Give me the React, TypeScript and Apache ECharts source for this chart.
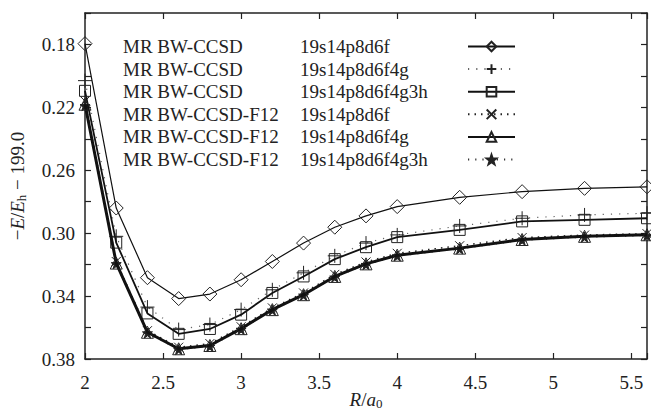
import React, { useEffect, useRef } from "react";
import * as echarts from "echarts";

const R = [2.0, 2.2, 2.4, 2.6, 2.8, 3.0, 3.2, 3.4, 3.6, 3.8, 4.0, 4.4, 4.8, 5.2, 5.6];

const bw6f = [0.1795, 0.284, 0.3283, 0.3416, 0.3387, 0.3296, 0.318, 0.3063, 0.2962, 0.289, 0.2831, 0.2772, 0.2736, 0.2715, 0.2705];
const bw6f4g = [0.203, 0.302, 0.347, 0.3613, 0.3581, 0.3486, 0.336, 0.3252, 0.3144, 0.3063, 0.3011, 0.2954, 0.2905, 0.2884, 0.2873];
const bw6f4g3h = [0.2095, 0.306, 0.351, 0.364, 0.3609, 0.3518, 0.338, 0.3275, 0.3165, 0.3089, 0.3025, 0.2979, 0.2925, 0.2915, 0.2905];
const f12_6f = [0.216, 0.318, 0.362, 0.3725, 0.3702, 0.3595, 0.3475, 0.338, 0.3262, 0.3183, 0.3128, 0.308, 0.3028, 0.3012, 0.3003];
const f12_6f4g = [0.218, 0.319, 0.363, 0.3735, 0.3714, 0.3607, 0.3486, 0.3391, 0.3275, 0.3195, 0.314, 0.3095, 0.304, 0.302, 0.301];
const f12_6f4g3h = [0.219, 0.3195, 0.3635, 0.374, 0.372, 0.3612, 0.349, 0.3395, 0.328, 0.32, 0.3145, 0.31, 0.3045, 0.3025, 0.3015];

const methods = ["MR BW-CCSD", "MR BW-CCSD", "MR BW-CCSD", "MR BW-CCSD-F12", "MR BW-CCSD-F12", "MR BW-CCSD-F12"];
const basis = ["19s14p8d6f", "19s14p8d6f4g", "19s14p8d6f4g3h", "19s14p8d6f", "19s14p8d6f4g", "19s14p8d6f4g3h"];

const FONT = "'Liberation Serif', 'DejaVu Serif', serif";

const PLUS = "path://M0,-1 L0,1 M-1,0 L1,0";
const CROSS = "path://M-1,-1 L1,1 M-1,1 L1,-1";
const STAR = "path://M0,-10 L2.35,-3.24 L9.51,-3.09 L3.8,1.24 L5.88,8.09 L0,4 L-5.88,8.09 L-3.8,1.24 L-9.51,-3.09 L-2.35,-3.24 Z";

export default function App() {
  const ref = useRef<HTMLDivElement>(null);
  useEffect(() => {
    if (!ref.current) return;
    const chart = echarts.init(ref.current, null, { renderer: "svg" });
    const names = methods.map((m, i) => m + " " + basis[i]);
    const pts = (arr: number[]) => R.map((r, i) => [r, arr[i]]);
    const styles = [
      { data: bw6f, symbol: "diamond", size: 14, line: { color: "#111", width: 1.2, type: "solid" }, fill: "none", z: 3 },
      { data: bw6f4g, symbol: PLUS, size: 14, line: { color: "#666", width: 1.2, type: [1.2, 7] }, fill: "none", z: 2 },
      { data: bw6f4g3h, symbol: "rect", size: 11, line: { color: "#111", width: 1.8, type: "solid" }, fill: "none", z: 3 },
      { data: f12_6f, symbol: CROSS, size: 9, line: { color: "#222", width: 1.5, type: [1.5, 5] }, fill: "none", z: 2 },
      { data: f12_6f4g, symbol: "triangle", size: 12, line: { color: "#111", width: 3, type: "solid" }, fill: "none", z: 4 },
      { data: f12_6f4g3h, symbol: STAR, size: 10, line: { color: "#333", width: 1.2, type: [1.2, 6] }, fill: "#222", z: 2 },
    ];
    const series = styles.map((s, i) => ({
      type: "line",
      name: names[i],
      data: pts(s.data),
      symbol: s.symbol,
      symbolSize: s.size,
      showSymbol: true,
      showAllSymbol: true,
      z: s.z,
      lineStyle: { color: s.line.color, width: s.line.width, type: s.line.type as any },
      itemStyle: { color: s.fill, borderColor: "#222", borderWidth: 1 },
      emphasis: { disabled: true },
    }));
    const axisLine = { show: true, lineStyle: { color: "#222", width: 1.5 } };
    const tickStyle = { show: true, inside: true, length: 6, lineStyle: { color: "#222", width: 1.2 } };
    chart.setOption({
      animation: false,
      backgroundColor: "#fff",
      grid: { left: 85, right: 4, top: 13, bottom: 53, containLabel: false, outerBoundsMode: "none" },
      legend: {
        show: true,
        orient: "vertical",
        left: 118,
        top: 32,
        align: "right",
        itemWidth: 47,
        itemHeight: 12,
        itemGap: 3.6,
        selectedMode: false,
        data: names,
        formatter: (n: string) => {
          const i = names.indexOf(n);
          return "{a|" + methods[i] + "}{b|" + basis[i] + "}";
        },
        textStyle: {
          fontFamily: FONT,
          fontSize: 19,
          color: "#222",
          rich: {
            a: { width: 177, align: "left", fontFamily: FONT, fontSize: 19, color: "#222" },
            b: { width: 163, align: "left", fontFamily: FONT, fontSize: 19, color: "#222" },
          },
        },
      },
      xAxis: [
        {
          type: "value",
          min: 2,
          max: 5.6,
          interval: 0.5,
          position: "bottom",
          axisLine,
          axisTick: tickStyle,
          splitLine: { show: false },
          axisLabel: {
            margin: 14,
            fontFamily: FONT,
            fontSize: 19,
            color: "#222",
            formatter: (v: number) => (Math.abs(v * 2 - Math.round(v * 2)) < 1e-6 ? String(v) : ""),
          },
          name: "{i|R}/{i|a}{s|0}",
          nameLocation: "middle",
          nameGap: 30,
          nameMoveOverlap: false,
          nameTextStyle: {
            fontFamily: FONT,
            fontSize: 19,
            color: "#222",
            rich: {
              i: { fontFamily: FONT, fontSize: 19, fontStyle: "italic", color: "#222" },
              s: { fontFamily: FONT, fontSize: 13, color: "#222", padding: [8, 0, 0, 0] },
            },
          },
        },
        {
          type: "value",
          min: 2,
          max: 5.6,
          interval: 0.5,
          position: "top",
          axisLine,
          axisTick: tickStyle,
          splitLine: { show: false },
          axisLabel: { show: false },
        },
      ],
      yAxis: [
        {
          type: "value",
          inverse: true,
          min: 0.16,
          max: 0.38,
          interval: 0.02,
          position: "left",
          axisLine,
          axisTick: tickStyle,
          splitLine: { show: false },
          axisLabel: {
            margin: 10,
            fontFamily: FONT,
            fontSize: 19,
            color: "#222",
            formatter: (v: number) => (Math.round(v * 100) % 4 === 2 ? v.toFixed(2) : ""),
          },
          name: "−{i|E}/{i|E}{s|h} − 199.0",
          nameLocation: "middle",
          nameGap: 57,
          nameMoveOverlap: false,
          nameRotate: 90,
          nameTextStyle: {
            fontFamily: FONT,
            fontSize: 19,
            color: "#222",
            rich: {
              i: { fontFamily: FONT, fontSize: 19, fontStyle: "italic", color: "#222" },
              s: { fontFamily: FONT, fontSize: 13, color: "#222", padding: [8, 0, 0, 0] },
            },
          },
        },
        {
          type: "value",
          inverse: true,
          min: 0.16,
          max: 0.38,
          interval: 0.02,
          position: "right",
          axisLine,
          axisTick: tickStyle,
          splitLine: { show: false },
          axisLabel: { show: false },
        },
      ],
      series,
    });
    return () => chart.dispose();
  }, []);
  return (
    <div
      ref={ref}
      style={{ position: "fixed", left: 0, top: 0, width: 651, height: 412, background: "#fff" }}
    />
  );
}
